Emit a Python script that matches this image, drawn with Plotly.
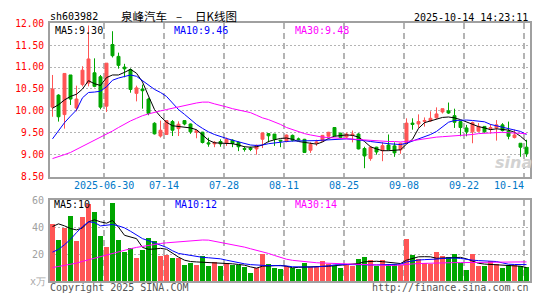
import plotly.graph_objects as go
import pandas as pd

# ---------------- data ----------------
holidays = ["2025-10-01", "2025-10-02", "2025-10-03", "2025-10-06", "2025-10-07", "2025-10-08"]
dates = [d.strftime("%Y-%m-%d") for d in pd.bdate_range("2025-06-17", "2025-10-14")
         if d.strftime("%Y-%m-%d") not in holidays]

open_ = [10.085, 10.36, 9.915, 10.82, 10.063, 10.60, 10.635, 10.87, 10.78, 10.107,
         11.516, 11.245, 11.00, 10.943, 10.40, 10.50, 10.27, 9.717, 9.425, 9.46,
         9.755, 9.594, 9.777, 9.70, 9.51, 9.513, 9.27, 9.245, 9.30, 9.255,
         9.33, 9.28, 9.14, 9.15, 9.13, 9.352, 9.48, 9.47, 9.33, 9.30,
         9.44, 9.36, 9.35, 9.10, 9.26, 9.31, 9.42, 9.62, 9.49, 9.40,
         9.44, 9.47, 9.14, 8.91, 9.17, 9.09, 9.22, 9.20, 9.11, 9.26,
         9.72, 9.70, 9.76, 9.77, 9.84, 9.975, 10.00, 9.89, 9.755, 9.61,
         9.52, 9.535, 9.645, 9.59, 9.61, 9.68, 9.535, 9.39, 9.26, 9.17]
high = [10.82, 10.38, 10.86, 10.82, 10.576, 11.02, 11.95, 11.20, 10.82, 11.09,
        11.82, 11.33, 11.075, 10.97, 10.576, 10.60, 10.30, 9.74, 9.777, 9.79,
        9.79, 9.76, 9.78, 9.71, 9.57, 9.52, 9.387, 9.31, 9.35, 9.39,
        9.35, 9.30, 9.19, 9.18, 9.23, 9.50, 9.49, 9.47, 9.34, 9.46,
        9.46, 9.39, 9.36, 9.28, 9.34, 9.45, 9.52, 9.63, 9.50, 9.50,
        9.55, 9.49, 9.18, 9.20, 9.18, 9.28, 9.46, 9.28, 9.27, 9.83,
        9.83, 9.92, 9.85, 9.99, 10.08, 10.05, 10.19, 10.05, 9.77, 9.68,
        9.755, 9.72, 9.65, 9.70, 9.79, 9.72, 9.755, 9.57, 9.26, 9.34]
low = [9.865, 9.755, 9.594, 10.135, 9.99, 10.56, 10.56, 10.54, 10.035, 9.975,
       11.22, 10.965, 10.767, 10.415, 10.217, 10.05, 9.90, 9.46, 9.39, 9.45,
       9.425, 9.425, 9.67, 9.475, 9.374, 9.255, 9.18, 9.17, 9.18, 9.20,
       9.17, 9.08, 9.07, 9.08, 9.00, 9.15, 9.28, 9.20, 9.17, 9.28,
       9.30, 9.32, 9.04, 9.04, 9.20, 9.30, 9.40, 9.42, 9.37, 9.38,
       9.28, 9.12, 8.69, 8.86, 9.00, 8.85, 9.10, 8.95, 9.02, 9.24,
       9.57, 9.61, 9.64, 9.75, 9.82, 9.94, 9.93, 9.61, 9.42, 9.42,
       9.26, 9.53, 9.50, 9.48, 9.32, 9.53, 9.35, 9.37, 8.95, 8.95]
close = [10.50, 9.865, 10.855, 10.27, 10.27, 10.93, 11.186, 10.56, 10.085, 11.09,
         11.26, 11.04, 10.96, 10.49, 10.525, 10.46, 9.94, 9.475, 9.557, 9.777,
         9.557, 9.695, 9.70, 9.52, 9.548, 9.277, 9.245, 9.28, 9.245, 9.35,
         9.255, 9.18, 9.12, 9.12, 9.21, 9.497, 9.43, 9.35, 9.31, 9.447,
         9.33, 9.34, 9.05, 9.235, 9.29, 9.44, 9.51, 9.43, 9.39, 9.47,
         9.47, 9.13, 8.97, 9.17, 9.06, 9.205, 9.11, 9.04, 9.26, 9.72,
         9.69, 9.755, 9.78, 9.83, 9.93, 10.05, 9.95, 9.74, 9.62, 9.52,
         9.73, 9.645, 9.52, 9.62, 9.68, 9.55, 9.42, 9.45, 9.17, 9.02]

ma5 = [10.06, 10.14, 10.25, 10.33, 10.38, 10.50, 10.69, 10.62, 10.58, 10.76,
       10.82, 10.82, 10.88, 10.95, 10.86, 10.66, 10.34, 10.03, 9.87, 9.74,
       9.66, 9.64, 9.62, 9.61, 9.57, 9.44, 9.33, 9.27, 9.26, 9.26,
       9.25, 9.22, 9.18, 9.17, 9.18, 9.22, 9.30, 9.34, 9.37, 9.38,
       9.35, 9.30, 9.28, 9.26, 9.24, 9.29, 9.37, 9.42, 9.44, 9.45,
       9.44, 9.40, 9.30, 9.18, 9.13, 9.09, 9.09, 9.10, 9.11, 9.24,
       9.35, 9.60, 9.73, 9.77, 9.81, 9.85, 9.86, 9.84, 9.80, 9.75,
       9.69, 9.64, 9.61, 9.57, 9.59, 9.57, 9.56, 9.51, 9.42, 9.30]
ma10 = [9.36, 9.55, 9.73, 9.88, 10.02, 10.30, 10.42, 10.43, 10.45, 10.55,
        10.70, 10.75, 10.78, 10.82, 10.79, 10.69, 10.58, 10.49, 10.42, 10.33,
        10.18, 10.03, 9.92, 9.80, 9.69, 9.60, 9.52, 9.46, 9.41, 9.37,
        9.33, 9.29, 9.25, 9.22, 9.21, 9.22, 9.25, 9.27, 9.29, 9.30,
        9.31, 9.31, 9.31, 9.31, 9.32, 9.33, 9.34, 9.35, 9.36, 9.36,
        9.35, 9.34, 9.32, 9.30, 9.28, 9.27, 9.25, 9.24, 9.23, 9.26,
        9.31, 9.36, 9.40, 9.46, 9.53, 9.64, 9.74, 9.78, 9.79, 9.79,
        9.78, 9.77, 9.75, 9.69, 9.66, 9.63, 9.59, 9.56, 9.53, 9.46]
ma30 = [8.91, 8.95, 9.00, 9.05, 9.12, 9.19, 9.26, 9.33, 9.39, 9.46,
        9.54, 9.62, 9.70, 9.77, 9.83, 9.89, 9.93, 9.97, 10.00, 10.03,
        10.06, 10.10, 10.13, 10.16, 10.18, 10.20, 10.20, 10.16, 10.13, 10.09,
        10.05, 10.02, 9.99, 9.96, 9.90, 9.84, 9.80, 9.75, 9.69, 9.62,
        9.57, 9.52, 9.48, 9.45, 9.42, 9.40, 9.39, 9.38, 9.37, 9.36,
        9.35, 9.35, 9.34, 9.33, 9.32, 9.31, 9.30, 9.30, 9.29, 9.30,
        9.32, 9.35, 9.37, 9.39, 9.40, 9.41, 9.42, 9.42, 9.43, 9.44,
        9.46, 9.48, 9.49, 9.50, 9.51, 9.51, 9.50, 9.49, 9.48, 9.48]

volume = [42.2, 30.6, 39.5, 48.0, 29.2, 47.2, 57.4, 50.9, 33.5, 24.8,
          58.1, 30.6, 21.2, 24.1, 16.9, 22.9, 32.1, 29.2, 18.3, 19.0,
          16.9, 16.9, 12.0, 13.3, 11.8, 18.6, 11.1, 13.7, 11.1, 13.0,
          12.0, 12.0, 10.4, 6.0, 9.4, 20.0, 12.8, 9.8, 8.4, 11.1,
          9.2, 8.4, 13.3, 10.4, 10.4, 14.7, 12.8, 10.8, 9.2, 12.3,
          11.1, 16.4, 17.6, 15.7, 11.1, 15.2, 12.3, 12.8, 11.6, 30.8,
          19.3, 16.4, 13.3, 12.8, 21.2, 18.3, 17.6, 20.0, 13.3, 7.7,
          20.0, 11.1, 11.1, 14.5, 12.8, 9.2, 11.6, 12.0, 10.8, 10.4]
vma5 = [40.5, 42.5, 41.0, 39.0, 38.0, 39.5, 44.0, 45.5, 44.0, 43.0,
        45.0, 40.0, 34.0, 33.0, 31.5, 25.0, 23.6, 23.8, 24.3, 23.6,
        20.5, 17.8, 15.5, 14.5, 14.2, 14.0, 14.0, 13.8, 13.3, 13.0,
        12.8, 12.3, 11.8, 10.5, 9.6, 11.0, 11.3, 11.6, 11.6, 11.0,
        9.8, 10.2, 10.5, 10.6, 10.8, 10.9, 11.0, 11.5, 11.8, 12.3,
        12.6, 13.0, 14.3, 14.7, 14.7, 14.4, 14.0, 13.5, 13.0, 15.5,
        17.0, 18.0, 18.1, 18.0, 16.9, 17.0, 17.1, 17.4, 17.6, 16.5,
        15.0, 13.2, 12.6, 12.3, 12.2, 12.0, 11.8, 11.5, 11.0, 10.0]
vma10 = [21.5, 23.5, 27.0, 31.0, 36.0, 40.5, 44.0, 43.5, 41.0, 41.5,
         42.0, 41.0, 39.5, 37.0, 34.0, 31.5, 30.0, 28.5, 27.0, 25.0,
         22.5, 20.5, 19.8, 19.0, 18.3, 17.6, 17.3, 17.0, 16.5, 15.5,
         14.5, 13.5, 12.8, 12.2, 11.8, 11.6, 11.4, 11.5, 11.5, 11.2,
         10.6, 10.4, 10.4, 10.4, 10.5, 10.8, 11.3, 12.0, 12.3, 12.3,
         12.2, 12.0, 12.0, 12.0, 12.0, 12.0, 12.0, 12.0, 12.5, 14.2,
         15.0, 15.6, 15.9, 15.9, 16.3, 16.8, 17.0, 17.1, 16.8, 16.0,
         15.5, 15.2, 15.0, 14.7, 14.5, 13.5, 12.5, 12.3, 12.3, 12.2]
vma30 = [10.0, 10.8, 11.6, 12.4, 13.3, 14.6, 15.8, 17.0, 18.3, 19.6,
         20.8, 22.0, 23.0, 24.0, 25.0, 25.8, 26.6, 27.3, 27.9, 28.4,
         28.8, 29.3, 29.7, 30.1, 30.4, 30.5, 30.4, 29.5, 28.7, 28.0,
         27.3, 26.3, 25.2, 24.0, 23.0, 21.8, 20.5, 19.0, 17.5, 16.2,
         15.4, 14.9, 14.3, 13.9, 13.6, 13.4, 13.2, 13.0, 12.8, 12.6,
         12.3, 12.1, 11.9, 11.7, 11.6, 11.6, 11.6, 11.6, 11.8, 12.3,
         12.7, 13.0, 13.2, 13.3, 13.4, 13.5, 13.6, 13.7, 13.7, 13.8,
         13.9, 14.0, 14.0, 14.1, 14.1, 14.2, 14.2, 14.2, 14.2, 14.2]

tick_dates = ["2025-06-30", "2025-07-14", "2025-07-28", "2025-08-11",
              "2025-08-25", "2025-09-08", "2025-09-22", "2025-10-14"]
tick_labels = ["2025-06-30", "07-14", "07-28", "08-11", "08-25", "09-08", "09-22", "10-14"]
price_ticks = [8.5, 9.0, 9.5, 10.0, 10.5, 11.0, 11.5, 12.0]
vol_ticks = [20, 40, 60]

# ---------------- styling ----------------
W, H = 545, 300
RED, GREEN = "#ff5555", "#00a600"
MONO = "DejaVu Sans Mono"
CJK = "Noto Sans CJK SC"
FRAME = "#a0a0a0"
GRID = "#b4b4b4"

x = list(range(len(dates)))
tick_x = [dates.index(d) - 0.37 for d in tick_dates]
vol_colors = [RED if c >= o else GREEN for o, c in zip(open_, close)]

def px(v):
    return v / W

def py(v):
    return 1 - v / H

fig = go.Figure()
fig.add_trace(go.Candlestick(
    x=x, open=open_, high=high, low=low, close=close,
    increasing=dict(line=dict(color=RED, width=1), fillcolor=RED),
    decreasing=dict(line=dict(color=GREEN, width=1), fillcolor=GREEN),
    whiskerwidth=0, xaxis="x", yaxis="y", showlegend=False, hoverinfo="skip"))
for series, col in ((ma5, "#000000"), (ma10, "#0000ff"), (ma30, "#ff00ff")):
    fig.add_trace(go.Scatter(x=x, y=series, mode="lines", line=dict(color=col, width=1),
                             xaxis="x", yaxis="y", showlegend=False, hoverinfo="skip"))

fig.add_trace(go.Bar(x=x, y=volume, marker=dict(color=vol_colors, line=dict(width=0)),
                     width=0.8, xaxis="x2", yaxis="y2", showlegend=False, hoverinfo="skip"))
for series, col in ((vma5, "#000000"), (vma10, "#0000ff"), (vma30, "#ff00ff")):
    fig.add_trace(go.Scatter(x=x, y=series, mode="lines", line=dict(color=col, width=1),
                             xaxis="x2", yaxis="y2", showlegend=False, hoverinfo="skip"))

xr = [-0.4167, len(dates) - 0.5]
xdom = [50 / W, 529.5 / W]
common_x = dict(range=xr, domain=xdom, tickmode="array", tickvals=tick_x,
                showticklabels=False, ticks="", showgrid=True, gridcolor=GRID,
                griddash="6px,4px", gridwidth=1.5, zeroline=False,
                showline=True, mirror=True, linecolor=FRAME, linewidth=2,
                fixedrange=True)
fig.update_layout(
    width=W, height=H, margin=dict(l=0, r=0, t=0, b=0),
    paper_bgcolor="white", plot_bgcolor="white",
    bargap=0, boxgap=0.3,
    xaxis=dict(anchor="y", rangeslider=dict(visible=False), **common_x),
    yaxis=dict(domain=[py(177), py(18)], range=[8.5, 12.0], tickmode="array",
               tickvals=price_ticks, ticktext=[f"{v:.2f}" for v in price_ticks],
               tickfont=dict(family=MONO, size=9.6, color="#ff0000"),
               ticks="", ticklabelstandoff=2, showgrid=True, gridcolor=GRID,
               griddash="2px,2px", gridwidth=1, zeroline=False,
               showline=True, mirror=True, linecolor=FRAME, linewidth=2),
    xaxis2=dict(anchor="y2", **common_x),
    yaxis2=dict(domain=[py(285.5), py(201.7)], range=[0, 60], tickmode="array",
                tickvals=vol_ticks, ticktext=[str(v) for v in vol_ticks],
                tickfont=dict(family=MONO, size=10, color="#a0a0a0"),
                ticks="", ticklabelstandoff=2, showgrid=True, gridcolor=GRID,
                griddash="2px,2px", gridwidth=1, zeroline=False,
                showline=True, mirror=True, linecolor=FRAME, linewidth=2),
)

ann = []
def text(s, xp, yp, color="#000000", size=10, family=MONO, anchor="left", **kw):
    ann.append(dict(text=s, x=px(xp), y=py(yp), xref="paper", yref="paper",
                    xanchor=anchor, yanchor="middle", showarrow=False,
                    borderpad=0, borderwidth=0,
                    font=dict(family=family, size=size, color=color), **kw))

text("sh603982", 49.7, 11.3)
text("泉峰汽车", 120.6, 10, size=11.5, family=CJK)
text("–", 179, 10, size=11.5, family=CJK, anchor="center")
text("日K线图", 194.6, 10, size=11.5, family=CJK)
text("2025-10-14 14:23:11", 528.3, 12, anchor="right")

text(f"MA5:{ma5[-1]:.2f}", 54.6, 25, "#000000")
text(f"MA10:{ma10[-1]:.2f}", 173.8, 25, "#0000ff")
text(f"MA30:{ma30[-1]:.2f}", 294.7, 25, "#ff00ff")

text(f"MA5:{vma5[-1]:.0f}", 54.3, 206.3, "#000000")
text(f"MA10:{vma10[-1]:.0f}", 175, 206.3, "#0000ff")
text(f"MA30:{vma30[-1]:.0f}", 295, 206.3, "#ff00ff")

for i, (tx, lab) in enumerate(zip(tick_x, tick_labels)):
    last = i == len(tick_labels) - 1
    ann.append(dict(text=lab, x=tx, y=py(186.7), xref="x", yref="paper",
                    xanchor="right" if last else "center", yanchor="middle",
                    showarrow=False, borderpad=0, borderwidth=0,
                    font=dict(family=MONO, size=10, color="#0078c8")))

text("x万", 45.5, 286, "#a8a8a8", anchor="right", size=10)
text("Copyright 2025 SINA.COM", 50, 292.5, "#555555")
text("http://finance.sina.com.cn", 529.3, 292.5, "#555555", anchor="right")
text("<b><i>sina</i></b>", 513, 162, "#d2d2d2", size=16, family="DejaVu Sans", anchor="center")

fig.update_layout(annotations=ann)
fig.write_html("out.html")
